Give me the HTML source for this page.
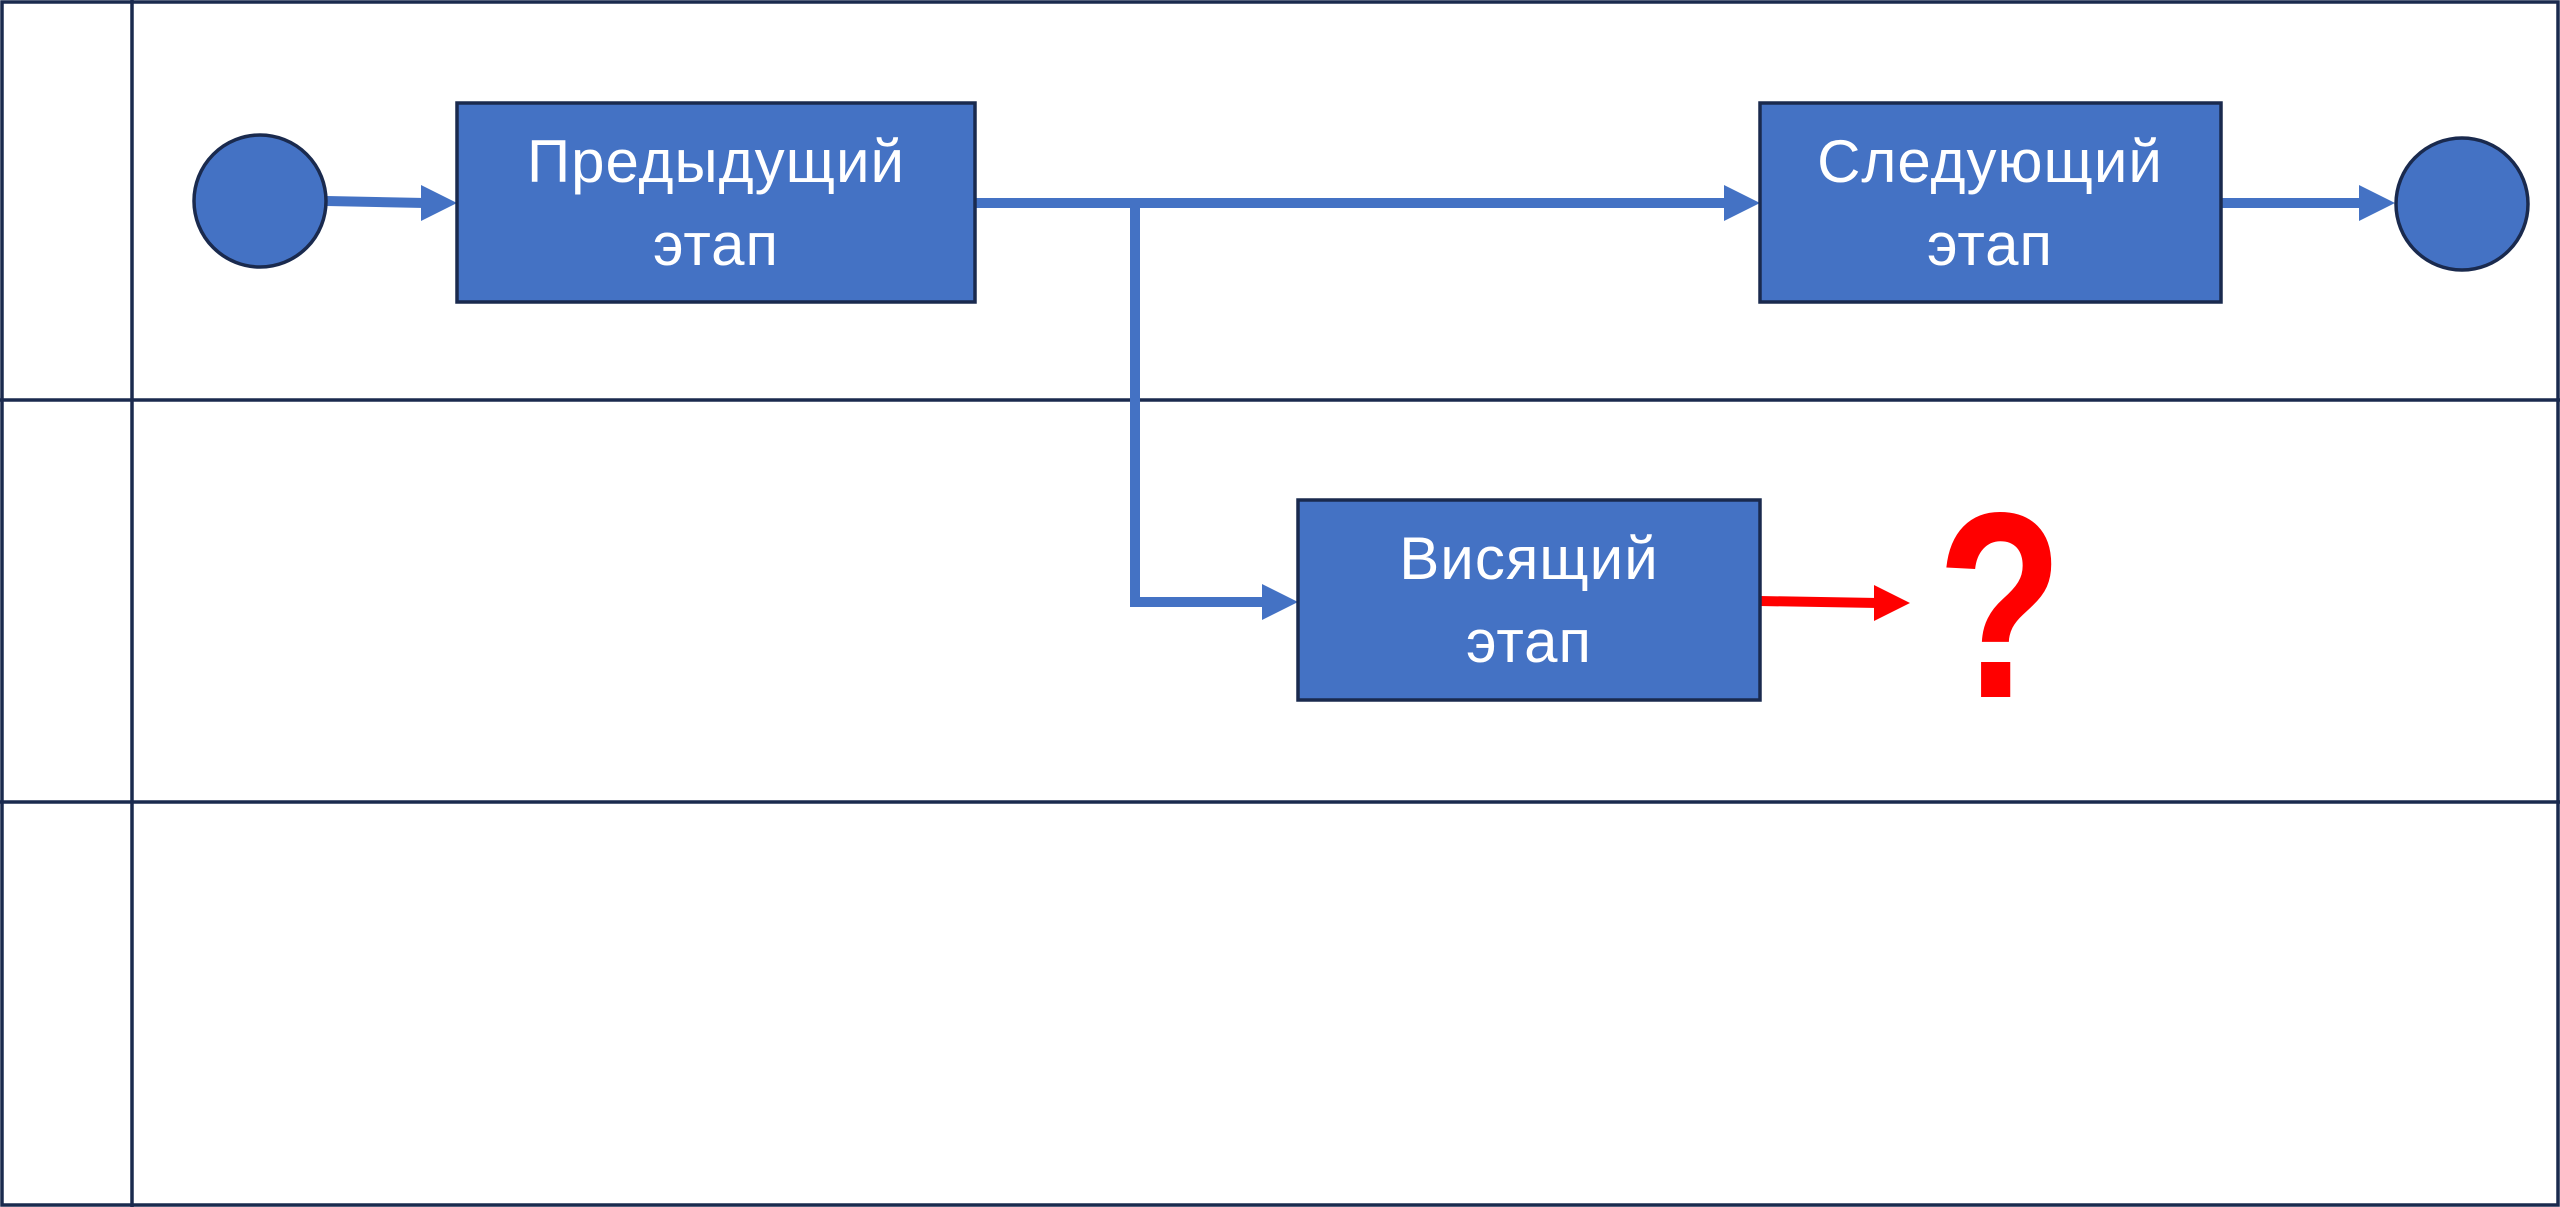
<!DOCTYPE html>
<html><head><meta charset="utf-8"><style>
html,body{margin:0;padding:0;background:#fff}
svg{display:block}
text{font-family:"Liberation Sans","DejaVu Sans",sans-serif;fill:#fff;font-size:60px;letter-spacing:1px}
</style></head><body>
<svg width="2560" height="1207" viewBox="0 0 2560 1207" xmlns="http://www.w3.org/2000/svg">
<rect x="0" y="0" width="2560" height="1207" fill="#fff"/>
<g stroke="#1a2a4e" stroke-width="3.5" fill="none">
<rect x="2" y="2" width="2556" height="1203"/>
<line x1="132" y1="0" x2="132" y2="1207"/>
<line x1="0" y1="400" x2="2560" y2="400"/>
<line x1="0" y1="802" x2="2560" y2="802"/>
</g>
<g stroke="#4472c4" stroke-width="10" fill="none">
<line x1="327" y1="201" x2="425" y2="203"/>
<line x1="975" y1="203" x2="1725" y2="203"/>
<polyline points="1135,203 1135,602 1265,602"/>
<line x1="2221" y1="203" x2="2360" y2="203"/>
</g>
<g fill="#4472c4">
<polygon points="421,185 457,203 421,221"/>
<polygon points="1724,185 1760,203 1724,221"/>
<polygon points="1262,584 1298,602 1262,620"/>
<polygon points="2359,185 2395,203 2359,221"/>
</g>
<line x1="1760" y1="601" x2="1878" y2="603" stroke="#ff0000" stroke-width="10"/>
<polygon points="1874,585 1910,603 1874,621" fill="#ff0000"/>
<g fill="#4472c4" stroke="#1a2a4e" stroke-width="3.5">
<circle cx="260" cy="201" r="66"/>
<circle cx="2462" cy="204" r="66"/>
<rect x="457" y="103" width="518" height="199"/>
<rect x="1760" y="103" width="461" height="199"/>
<rect x="1298" y="500" width="462" height="200"/>
</g>
<g text-anchor="middle">
<text x="716" y="182">Предыдущий</text>
<text x="716" y="265">этап</text>
<text x="1990" y="182">Следующий</text>
<text x="1990" y="265">этап</text>
<text x="1529" y="579">Висящий</text>
<text x="1529" y="662">этап</text>
<text x="0" y="697" transform="translate(2000,0) scale(0.78,1)" style="fill:#ff0000;font-size:265px;font-weight:bold;letter-spacing:0">?</text>
</g>
</svg>
</body></html>
